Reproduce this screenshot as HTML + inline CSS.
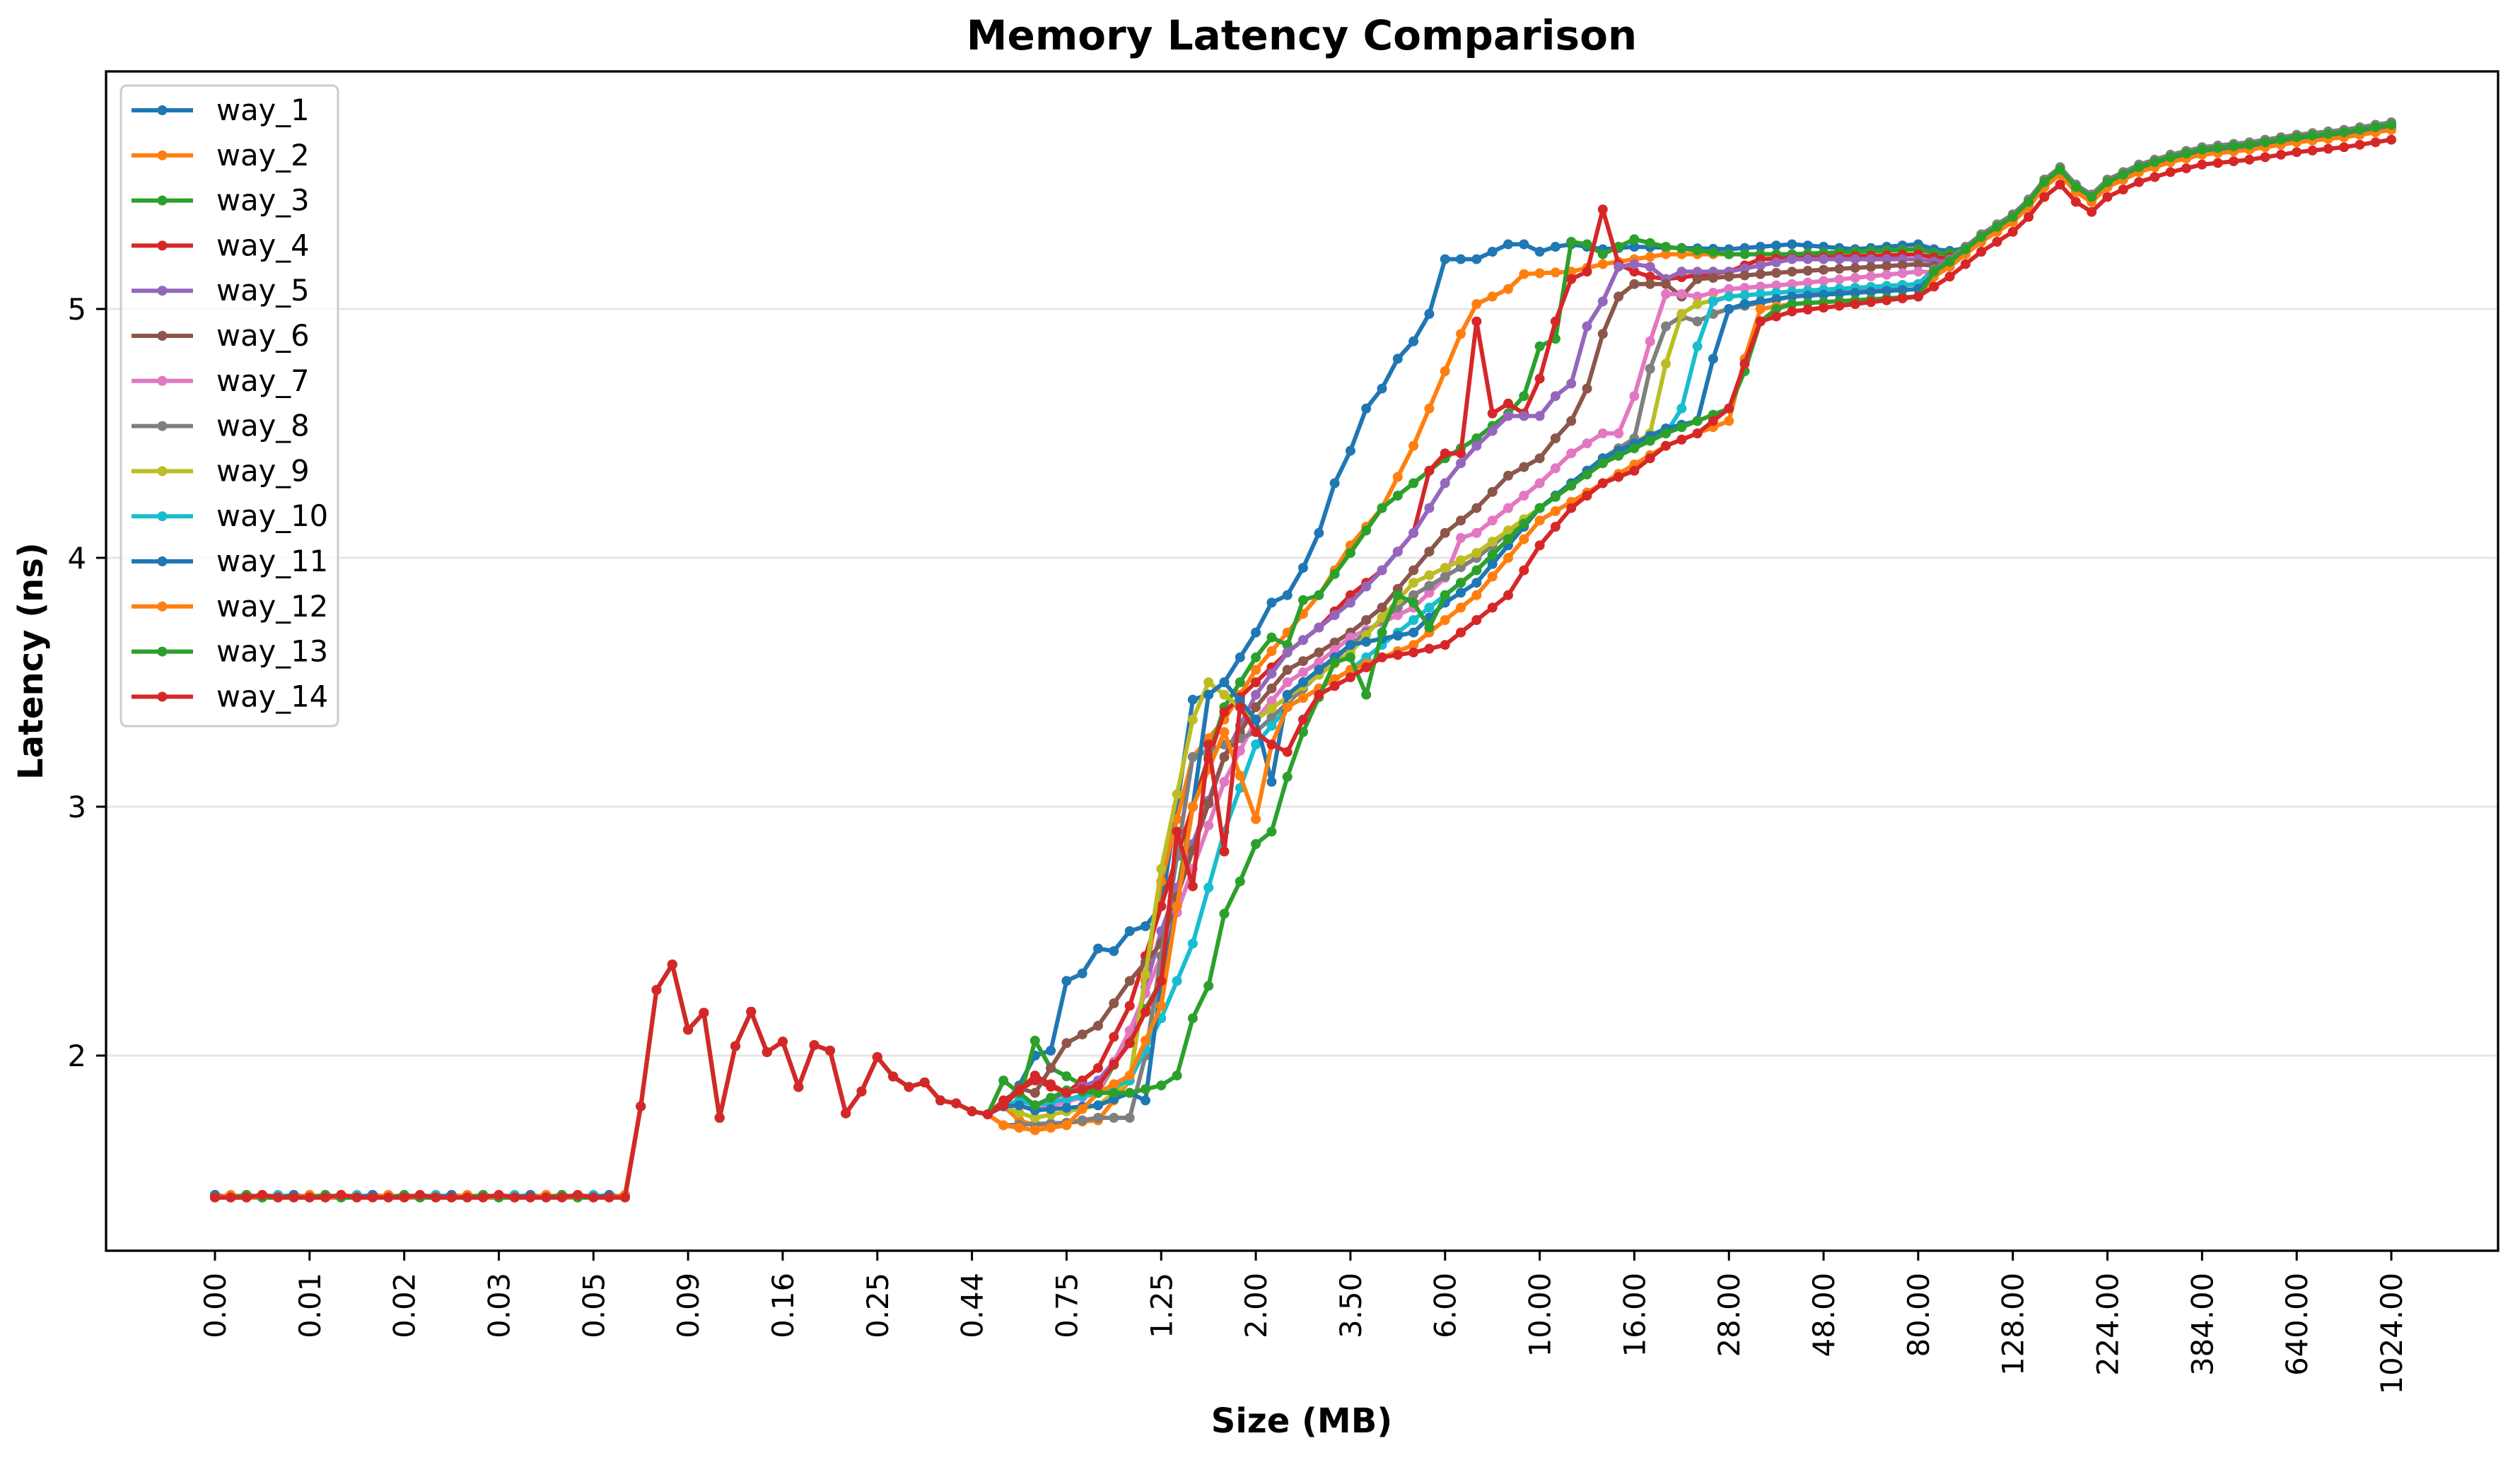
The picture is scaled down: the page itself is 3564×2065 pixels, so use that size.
<!DOCTYPE html>
<html><head><meta charset="utf-8">
<style>
html,body{margin:0;padding:0;background:#fff;}
svg{display:block;}
text{font-family:"DejaVu Sans","Liberation Sans",sans-serif;}
</style></head>
<body>
<svg id="c" xmlns="http://www.w3.org/2000/svg" width="3564" height="2065" viewBox="0 0 3564 2065">
<rect width="3564" height="2065" fill="#fff"/>
<g id="grid"></g>
<g id="series"></g>
<rect x="150" y="101" width="3383" height="1668" fill="none" stroke="#000" stroke-width="3.3"/>
<g id="axes"></g>
<text x="1841" y="70" font-size="58" font-weight="bold" text-anchor="middle">Memory Latency Comparison</text>
<text x="1841" y="2026" font-size="48" font-weight="bold" text-anchor="middle">Size (MB)</text>
<text transform="translate(60,935) rotate(-90)" font-size="48" font-weight="bold" text-anchor="middle">Latency (ns)</text>
<g id="legend"></g>
</svg>
<script>
var NS="http://www.w3.org/2000/svg";
function el(t,a,p,txt){var e=document.createElementNS(NS,t);for(var k in a)e.setAttribute(k,a[k]);if(txt!==undefined)e.textContent=txt;p.appendChild(e);return e;}
function X(i){return 304+i*(3382-304)/138;}
function Y(v){return 437-(v-5)*352;}
var grid=document.getElementById('grid'),axes=document.getElementById('axes');
[2,3,4,5].forEach(function(v){
 el('line',{x1:150,x2:3533,y1:Y(v),y2:Y(v),stroke:'#e6e6e6','stroke-width':3},grid);
 el('line',{x1:136,x2:150,y1:Y(v),y2:Y(v),stroke:'#000','stroke-width':3},axes);
 el('text',{x:122,y:Y(v)+15,'font-size':41.7,'text-anchor':'end'},axes,String(v));
});
var labs=["0.00","0.01","0.02","0.03","0.05","0.09","0.16","0.25","0.44","0.75","1.25","2.00","3.50","6.00","10.00","16.00","28.00","48.00","80.00","128.00","224.00","384.00","640.00","1024.00"];
labs.forEach(function(l,k){var x=X(6*k);
 el('line',{x1:x,x2:x,y1:1769,y2:1783,stroke:'#000','stroke-width':3},axes);
 el('text',{transform:'translate('+(x+15)+',1800) rotate(-90)','font-size':41.7,'text-anchor':'end'},axes,l);
});
var base={27:1.82,28:2.30,29:2.33,30:2.08,31:2.16,32:1.75,33:2.05,34:2.20,35:2.05,36:2.02,37:1.85,38:2.03,39:2.02,40:1.78,41:1.88,42:2.03,43:1.88,44:1.85,45:1.88,46:1.82,47:1.82,48:1.80,49:1.80,50:1.76};
var tail=[[108,5.1],[110,5.18],[112,5.28],[114,5.36],[115,5.42],[116,5.5],[117,5.55],[118,5.48],[119,5.44],[120,5.5],[122,5.56],[124,5.6],[126,5.63],[129,5.65],[132,5.68],[135,5.7],[138,5.73]];
var S=[
['#1f77b4',[[50,1.8],[51,1.88],[52,2.0],[53,2.02],[54,2.3],[55,2.33],[56,2.43],[57,2.42],[58,2.5],[59,2.52],[60,2.6],[61,3.0],[62,3.43],[63,3.45],[64,3.5],[65,3.6],[66,3.7],[67,3.82],[68,3.85],[69,3.96],[70,4.1],[71,4.3],[72,4.43],[73,4.6],[74,4.68],[75,4.8],[76,4.87],[77,4.98],[78,5.2],[79,5.2],[80,5.2],[81,5.23],[82,5.26],[83,5.26],[84,5.23],[85,5.25],[86,5.26],[88,5.24],[90,5.25],[96,5.24],[100,5.26],[104,5.24],[108,5.26]],0],
['#ff7f0e',[[52,1.72],[56,1.74],[58,1.9],[60,2.7],[62,3.2],[64,3.35],[66,3.55],[68,3.7],[70,3.85],[72,4.05],[74,4.2],[76,4.45],[77,4.6],[78,4.75],[79,4.9],[80,5.02],[81,5.05],[82,5.08],[83,5.14],[86,5.15],[88,5.18],[90,5.2],[92,5.22],[100,5.22],[108,5.24]],0.01],
['#2ca02c',[[51,1.82],[52,2.06],[53,1.95],[56,1.85],[60,2.3],[62,3.0],[64,3.4],[66,3.6],[67,3.68],[68,3.65],[69,3.83],[70,3.85],[72,4.02],[74,4.2],[76,4.3],[78,4.4],[80,4.48],[82,4.58],[83,4.65],[84,4.85],[85,4.88],[86,5.27],[87,5.26],[88,5.22],[90,5.28],[92,5.25],[96,5.22],[100,5.22],[108,5.24]],0.01],
['#d62728',[[50,1.82],[52,1.9],[54,1.85],[56,1.95],[58,2.2],[60,2.6],[62,3.0],[64,3.38],[66,3.5],[68,3.62],[70,3.72],[72,3.85],[74,3.95],[76,4.1],[77,4.35],[78,4.42],[79,4.42],[80,4.95],[81,4.58],[82,4.62],[83,4.58],[84,4.72],[85,4.95],[86,5.12],[87,5.15],[88,5.4],[89,5.18],[90,5.15],[91,5.13],[92,5.12],[96,5.15],[98,5.2],[108,5.22]],0],
['#9467bd',[[52,1.8],[56,1.9],[58,2.05],[60,2.5],[64,3.2],[66,3.45],[68,3.62],[70,3.72],[72,3.82],[74,3.95],[76,4.1],[78,4.3],[79,4.38],[80,4.45],[82,4.57],[84,4.57],[85,4.65],[86,4.7],[87,4.93],[88,5.03],[89,5.17],[90,5.18],[91,5.17],[92,5.12],[93,5.15],[96,5.15],[100,5.2],[108,5.2]],0],
['#8c564b',[[52,1.85],[54,2.05],[56,2.12],[58,2.3],[60,2.45],[64,3.2],[66,3.4],[68,3.55],[70,3.62],[72,3.7],[74,3.8],[76,3.95],[78,4.1],[80,4.2],[82,4.33],[84,4.4],[85,4.48],[86,4.55],[87,4.68],[88,4.9],[89,5.05],[90,5.1],[92,5.1],[93,5.05],[94,5.12],[96,5.13],[100,5.15],[108,5.18]],0],
['#e377c2',[[52,1.78],[56,1.85],[58,2.1],[60,2.4],[64,3.1],[66,3.35],[68,3.5],[70,3.58],[72,3.68],[76,3.8],[78,3.92],[79,4.08],[80,4.1],[82,4.2],[84,4.3],[86,4.42],[88,4.5],[89,4.5],[90,4.65],[91,4.87],[92,5.06],[93,5.06],[94,5.05],[96,5.08],[100,5.1],[108,5.15]],0],
['#7f7f7f',[[50,1.72],[54,1.73],[56,1.75],[58,1.75],[59,2.0],[60,2.4],[62,3.2],[66,3.3],[72,3.65],[76,3.85],[80,4.0],[84,4.2],[88,4.4],[90,4.48],[91,4.76],[92,4.93],[93,4.97],[94,4.95],[95,4.98],[96,5.0],[100,5.05],[108,5.1]],0.02],
['#bcbd22',[[52,1.75],[56,1.8],[58,1.9],[60,2.75],[62,3.35],[63,3.5],[64,3.45],[66,3.35],[72,3.62],[76,3.9],[80,4.02],[84,4.2],[88,4.38],[91,4.5],[92,4.78],[93,4.98],[94,5.02],[96,5.05],[100,5.07],[108,5.1]],-0.01],
['#17becf',[[52,1.8],[56,1.85],[58,1.9],[60,2.15],[62,2.45],[64,2.9],[66,3.25],[68,3.4],[72,3.55],[76,3.75],[80,3.95],[84,4.2],[88,4.4],[92,4.5],[93,4.6],[94,4.85],[95,5.03],[96,5.05],[100,5.07],[108,5.1]],0.01],
['#1f77b4',[[52,1.78],[56,1.8],[58,1.85],[59,1.82],[60,2.3],[61,2.6],[62,3.0],[63,3.45],[64,3.5],[66,3.35],[67,3.1],[68,3.45],[70,3.55],[72,3.65],[76,3.7],[78,3.82],[80,3.9],[84,4.2],[88,4.4],[92,4.52],[94,4.55],[95,4.8],[96,5.0],[97,5.02],[100,5.05],[108,5.08]],0],
['#ff7f0e',[[50,1.72],[52,1.7],[54,1.72],[56,1.85],[58,1.92],[60,2.2],[62,3.0],[64,3.3],[66,2.95],[67,3.25],[68,3.4],[72,3.55],[76,3.65],[80,3.85],[84,4.15],[88,4.3],[92,4.45],[96,4.55],[97,4.8],[98,5.0],[100,5.02],[108,5.05]],-0.01],
['#2ca02c',[[50,1.9],[52,1.8],[54,1.86],[56,1.85],[58,1.85],[60,1.88],[61,1.92],[62,2.15],[63,2.28],[64,2.57],[65,2.7],[66,2.85],[67,2.9],[68,3.12],[69,3.3],[71,3.58],[72,3.6],[73,3.45],[74,3.7],[75,3.85],[76,3.82],[77,3.72],[78,3.85],[80,3.95],[84,4.2],[88,4.38],[92,4.5],[96,4.6],[97,4.75],[98,4.95],[99,5.0],[100,5.02],[108,5.05]],0.01],
['#d62728',[[50,1.8],[52,1.92],[54,1.85],[56,1.88],[58,2.05],[60,2.3],[61,2.9],[62,2.68],[63,3.25],[64,2.82],[65,3.4],[66,3.3],[67,3.25],[68,3.22],[69,3.35],[70,3.45],[72,3.52],[74,3.6],[76,3.62],[78,3.65],[80,3.75],[82,3.85],[84,4.05],[86,4.2],[88,4.3],[90,4.35],[92,4.45],[94,4.5],[96,4.6],[97,4.78],[98,4.95],[100,4.99],[104,5.02],[108,5.05]],-0.05]
];
function interp(kp,i){for(var j=0;j<kp.length-1;j++){if(i>=kp[j][0]&&i<=kp[j+1][0]){var t=(i-kp[j][0])/(kp[j+1][0]-kp[j][0]);return kp[j][1]+t*(kp[j+1][1]-kp[j][1]);}}return kp[kp.length-1][1];}
var sg=document.getElementById('series');
S.forEach(function(s,si){
 var kp=s[1],off=s[2],pts=[];
 for(var i=0;i<=138;i++){
  var v;
  if(i<=26)v=1.43+((i*7+si*3)%5==0?0.01:0);
  else if(i<kp[0][0]){
    if(base[i]!==undefined)v=base[i]+(((i*13+si*7)%7)-3)*0.012;
    else v=kp[0][1]+(((i*13+si*7)%7)-3)*0.01;
  }
  else if(i<=108)v=interp(kp,i);
  else{var tv=interp(tail,i)+off;var v108=kp[kp.length-1][1];var w=Math.max(0,1-(i-108)/6);v=Math.max(tv,v108*w+tv*(1-w));}
  if(!isFinite(v))v=1.8;
  pts.push([X(i),Y(v)]);
 }
 el('polyline',{points:pts.map(function(p){return p[0].toFixed(1)+','+p[1].toFixed(1)}).join(' '),fill:'none',stroke:s[0],'stroke-width':6,'stroke-linejoin':'round'},sg);
 pts.forEach(function(p){el('circle',{cx:p[0].toFixed(1),cy:p[1].toFixed(1),r:7,fill:s[0]},sg);});
});
var lg=document.getElementById('legend');
el('rect',{x:171,y:121,width:307,height:906,rx:8,fill:'#fff','fill-opacity':0.8,stroke:'#ccc','stroke-width':3},lg);
S.forEach(function(s,k){var y=156+k*63.8;
 el('line',{x1:186,x2:273,y1:y,y2:y,stroke:s[0],'stroke-width':6},lg);
 el('circle',{cx:229.5,cy:y,r:7,fill:s[0]},lg);
 el('text',{x:306,y:y+14,'font-size':41.7},lg,'way_'+(k+1));
});
</script>
</body></html>
